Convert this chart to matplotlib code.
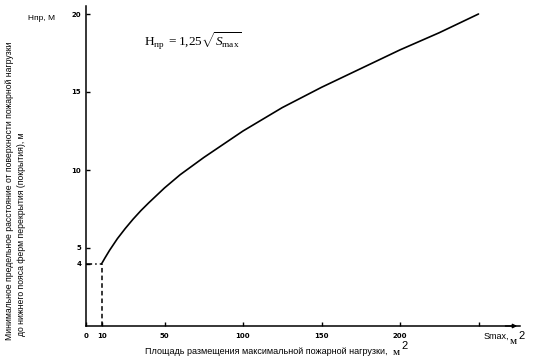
import matplotlib
matplotlib.use('Agg')
import matplotlib.pyplot as plt

plt.rcParams['font.family'] = ['Liberation Sans', 'DejaVu Sans']
plt.rcParams['mathtext.fontset'] = 'custom'
plt.rcParams['mathtext.rm'] = 'Liberation Serif'
plt.rcParams['mathtext.it'] = 'Liberation Serif:italic'

# --- данные ---
s_max = [10, 12, 15, 18, 20, 25, 30, 35, 40, 50, 60, 75, 100, 125, 150, 175,
         200, 225, 250]
h_pr = [4.0, 4.35, 4.85, 5.3, 5.6, 6.25, 6.85, 7.4, 7.9, 8.85, 9.7, 10.8,
        12.5, 14.0, 15.3, 16.5, 17.7, 18.8, 20.0]

s_start = 10
h_start = 4

x_ticks = [0, 10, 50, 100, 150, 200, 250]
x_labels = ['0', '10', '50', '100', '150', '200', '']
y_ticks = [4, 5, 10, 15, 20]
y_labels = ['4', '5', '10', '15', '20']

W, H = 534, 361
fig = plt.figure(figsize=(W / 100, H / 100), dpi=100)
ax = fig.add_axes([86 / W, 35 / H, 434 / W, 320 / H])

ax.plot(s_max, h_pr, color='black', linewidth=1.2, solid_capstyle='round',
        solid_joinstyle='round')
ax.plot([0, s_start], [h_start, h_start], color='black', linewidth=1.1,
        linestyle=(0, (4, 2, 1, 2)))
ax.plot([s_start, s_start], [0, h_start], color='black', linewidth=1.1,
        linestyle=(0, (3, 2)))

ax.set_xlim(0, 434 / 1.57)
ax.set_ylim(0, 320 / 15.6)

ax.spines['top'].set_visible(False)
ax.spines['right'].set_visible(False)
ax.spines['left'].set_linewidth(1.1)
ax.spines['bottom'].set_linewidth(1.1)

ax.set_xticks(x_ticks)
ax.set_xticklabels(x_labels, fontsize=5, fontweight='bold', family='DejaVu Sans')
ax.set_yticks(y_ticks)
ax.set_yticklabels(y_labels, fontsize=5, fontweight='bold', family='DejaVu Sans')
ax.tick_params(axis='x', direction='in', length=3, width=1, pad=5)
ax.tick_params(axis='y', direction='in', length=3, width=1, pad=3.5)

# стрелка оси X
ax.annotate('', xy=(1.0, 0), xytext=(0.96, 0), xycoords='axes fraction',
            arrowprops=dict(arrowstyle='-|>', color='black', lw=1.0,
                            mutation_scale=6), annotation_clip=False)

# подписи
fig.text(28 / W, 1 - 18 / H, 'Нпр, М', fontsize=6, va='center', ha='left',
         family='Liberation Sans')
fig.text(193 / W, 1 - 41 / H, r'$\mathrm{H}_{\mathrm{пр}}\ = 1{,}25\sqrt{S_{\mathrm{max}}}$',
         fontsize=9.5, ha='center', va='center')

fig.text(10 / W, 1 - 340 / H,
         'Минимальное предельное расстояние от поверхности пожарной нагрузки',
         rotation=90, fontsize=6.2, ha='center', va='bottom')
fig.text(22 / W, 1 - 336 / H,
         'до нижнего пояса ферм перекрытия (покрытия), м',
         rotation=90, fontsize=6.2, ha='center', va='bottom')

fig.text(145 / W, 1 - 354 / H,
         'Площадь размещения максимальной пожарной нагрузки,',
         fontsize=6.5, ha='left', va='baseline')
fig.text(393 / W, 1 - 355 / H, 'м', fontsize=8, family='Liberation Serif',
         ha='left', va='baseline')
fig.text(401 / W, 1 - 349 / H, '2', fontsize=8, family='Liberation Sans',
         ha='left', va='baseline')

fig.text(484 / W, 1 - 339 / H, 'Smax,', fontsize=6.5, ha='left', va='baseline')
fig.text(510 / W, 1 - 344 / H, 'м', fontsize=8, family='Liberation Serif',
         ha='left', va='baseline')
fig.text(518 / W, 1 - 339 / H, '2', fontsize=8, family='Liberation Sans',
         ha='left', va='baseline')

fig.savefig('out.png', dpi=100)
